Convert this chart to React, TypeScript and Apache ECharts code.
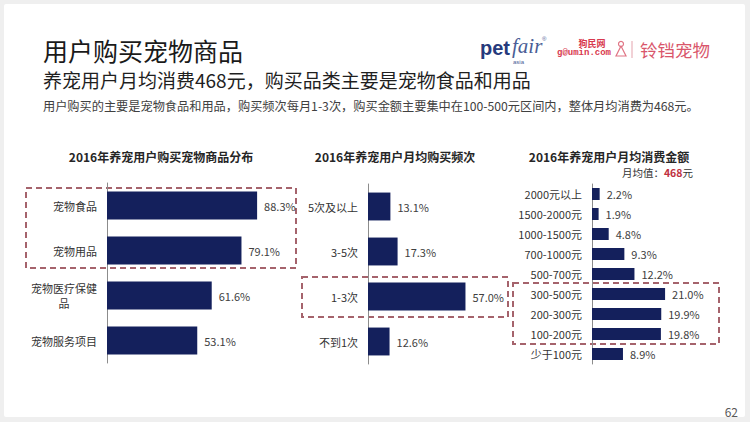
import React, { useEffect, useRef } from "react";
import * as echarts from "echarts";

const categories1 = ["宠物食品", "宠物用品", "宠物医疗保健品", "宠物服务项目"];
const values1 = [88.3, 79.1, 61.6, 53.1];

const categories2 = ["5次及以上", "3-5次", "1-3次", "不到1次"];
const values2 = [13.1, 17.3, 57.0, 12.6];

const categories3 = [
  "2000元以上",
  "1500-2000元",
  "1000-1500元",
  "700-1000元",
  "500-700元",
  "300-500元",
  "200-300元",
  "100-200元",
  "少于100元",
];
const values3 = [2.2, 1.9, 4.8, 9.3, 12.2, 21.0, 19.9, 19.8, 8.9];

const FONT = "Noto Sans CJK SC";
const BAR = "#14205c";
const DASH = "#a5636c";

export default function App() {
  const ref = useRef<HTMLDivElement>(null);

  useEffect(() => {
    if (!ref.current) return;
    const chart = echarts.init(ref.current, undefined, { renderer: "svg" });

    const yAxisBase = (data: string[], idx: number, wrap: boolean) => ({
      type: "category",
      gridIndex: idx,
      data,
      inverse: true,
      axisLine: { show: true, lineStyle: { color: "#8c8c8c", width: 1 } },
      axisTick: { show: false },
      axisLabel: {
        margin: 10,
        fontSize: 11,
        color: "#333333",
        fontFamily: FONT,
        lineHeight: 15,
        formatter: (v: string) =>
          wrap && v.length > 6 ? "{a|" + v.slice(0, 6) + "}\n{c|" + v.slice(6) + "}" : v,
        rich: {
          a: { fontSize: 11, color: "#333333", fontFamily: FONT, lineHeight: 15 },
          c: { align: "center", fontSize: 11, color: "#333333", fontFamily: FONT, lineHeight: 15 },
        },
      },
    });

    const barSeries = (data: number[], idx: number, gap: string) => ({
      type: "bar",
      xAxisIndex: idx,
      yAxisIndex: idx,
      data,
      barCategoryGap: gap,
      itemStyle: { color: BAR },
      label: {
        show: true,
        position: "right",
        distance: 7,
        fontSize: 11,
        color: "#404040",
        fontFamily: FONT,
        formatter: (p: any) => Number(p.value).toFixed(1) + "%",
      },
    });

    const txt = (
      text: string,
      x: number,
      y: number,
      fontSize: number,
      fill: string,
      extra: any = {}
    ) => ({
      type: "text",
      x,
      y,
      silent: true,
      style: {
        text,
        fontSize,
        fill,
        fontFamily: FONT,
        verticalAlign: "middle",
        align: "left",
        ...extra,
      },
    });

    const box = (x: number, y: number, w: number, h: number) => ({
      type: "rect",
      shape: { x, y, width: w, height: h },
      silent: true,
      style: { fill: "none", stroke: DASH, lineWidth: 2, lineDash: [6, 4] },
    });

    chart.setOption({
      animation: false,
      grid: [
        { left: 107, top: 183, width: 170, height: 180 },
        { left: 368, top: 184, width: 171, height: 180 },
        { left: 592, top: 184, width: 87, height: 180 },
      ],
      xAxis: [
        { type: "value", gridIndex: 0, min: 0, max: 100, show: false },
        { type: "value", gridIndex: 1, min: 0, max: 100, show: false },
        { type: "value", gridIndex: 2, min: 0, max: 25, show: false },
      ],
      yAxis: [
        yAxisBase(categories1, 0, true),
        yAxisBase(categories2, 1, false),
        yAxisBase(categories3, 2, false),
      ],
      series: [
        barSeries(values1, 0, "38%"),
        barSeries(values2, 1, "38%"),
        barSeries(values3, 2, "40%"),
      ],
      graphic: [
        txt("用户购买宠物商品", 43, 50, 25, "#1a1a1a"),
        txt("养宠用户月均消费468元，购买品类主要是宠物食品和用品", 43, 79, 19, "#1f1f1f"),
        txt(
          "用户购买的主要是宠物食品和用品，购买频次每月1-3次，购买金额主要集中在100-500元区间内，整体月均消费为468元。",
          43,
          106,
          12.2,
          "#404040"
        ),
        txt("2016年养宠用户购买宠物商品分布", 161, 156, 12, "#262626", { align: "center", fontWeight: "bold" }),
        txt("2016年养宠用户月均购买频次", 395, 156, 12, "#262626", { align: "center", fontWeight: "bold" }),
        txt("2016年养宠用户月均消费金额", 609, 156, 12, "#262626", { align: "center", fontWeight: "bold" }),
        {
          type: "text",
          x: 693,
          y: 172,
          silent: true,
          style: {
            text: "月均值：{b|468}元",
            fontSize: 10.5,
            fill: "#333333",
            fontFamily: FONT,
            align: "right",
            verticalAlign: "middle",
            rich: {
              b: { fontSize: 10.5, fontWeight: "bold", fill: "#c0313f", fontFamily: FONT },
            },
          },
        },
        box(26, 188, 270, 80),
        box(302, 277, 206, 40),
        box(513, 283, 206, 61),
        // logos
        txt("pet", 480, 48, 20, "#263a7c", { fontWeight: "bold", fontFamily: "Liberation Sans" }),
        txt("fair", 512, 46, 21, "#4a5e96", { fontStyle: "italic", fontFamily: "Liberation Serif" }),
        txt("®", 542, 39, 6, "#4a5e96", { fontFamily: "Liberation Sans" }),
        txt("asia", 513, 62, 6, "#4a5e96", { fontFamily: "Liberation Sans" }),
        txt("狗民网", 592, 43, 9, "#d8394f", { align: "center", fontWeight: "bold" }),
        txt("g@umin.com", 584, 53, 9, "#d8394f", { align: "center", fontWeight: "bold", fontFamily: "Liberation Mono" }),
        {
          type: "circle",
          shape: { cx: 621, cy: 44, r: 2.5 },
          silent: true,
          style: { fill: "none", stroke: "#e07585", lineWidth: 1.2 },
        },
        {
          type: "polygon",
          shape: { points: [[621, 46], [616, 56], [626, 56]] },
          silent: true,
          style: { fill: "none", stroke: "#e07585", lineWidth: 1.2 },
        },
        {
          type: "line",
          shape: { x1: 632, y1: 41, x2: 632, y2: 58 },
          silent: true,
          style: { stroke: "#e4a3ad", lineWidth: 1 },
        },
        txt("铃铛宠物", 640, 49, 17.5, "#d9566b"),
        txt("62", 738, 411, 12, "#595959", { align: "right" }),
      ],
    });

    return () => chart.dispose();
  }, []);

  return (
    <div style={{ position: "fixed", left: 0, top: 0, width: 750, height: 422, background: "#efefef" }}>
      <div
        style={{
          position: "absolute",
          left: 4,
          top: 4,
          width: 741,
          height: 413,
          background: "#ffffff",
          borderRadius: 2,
        }}
      />
      <div ref={ref} style={{ position: "absolute", left: 0, top: 0, width: 750, height: 422 }} />
    </div>
  );
}
